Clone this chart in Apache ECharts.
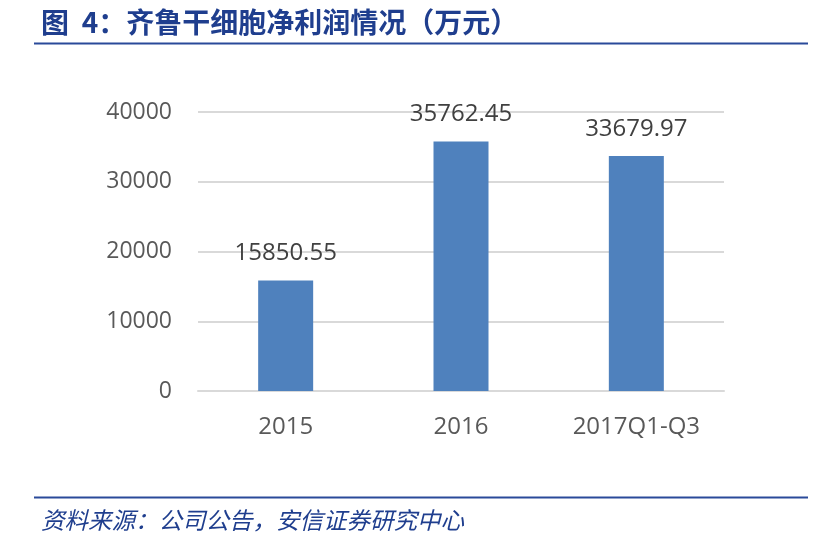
<!DOCTYPE html>
<html>
<head>
<meta charset="utf-8">
<script src="https://cdn.jsdelivr.net/npm/echarts@6/dist/echarts.min.js"></script>
<style>
html,body{margin:0;padding:0;background:#fff;}
#c{width:818px;height:533px;}
</style>
</head>
<body>
<div id="c"></div>
<script>
const categories = ['2015', '2016', '2017Q1-Q3'];
const netProfit = [15850.55, 35762.45, 33679.97];
const yTicks = [0, 10000, 20000, 30000, 40000];
const titleText = '图  4：齐鲁干细胞净利润情况（万元）';
const sourceText = '资料来源：公司公告，安信证券研究中心';

const chart = echarts.init(document.getElementById('c'));
chart.setOption({
  animation: false,
  backgroundColor: '#ffffff',
  title: [
    {
      text: titleText, left: 36, top: 3,
      textStyle: { fontFamily: 'Noto Sans CJK SC', fontSize: 28, fontWeight: 'bold', color: '#1F3E8E' }
    },
    {
      text: sourceText, left: 36, top: 503,
      textStyle: { fontFamily: 'Noto Sans CJK SC', fontSize: 23.5, fontWeight: 'normal', fontStyle: 'italic', color: '#1F3E8E' }
    }
  ],
  graphic: [
    { type: 'line', shape: { x1: 34, y1: 43.5, x2: 808, y2: 43.5 }, style: { stroke: '#2A4A9A', lineWidth: 2 } },
    { type: 'line', shape: { x1: 34, y1: 497.5, x2: 808, y2: 497.5 }, style: { stroke: '#2A4A9A', lineWidth: 2 } }
  ],
  grid: { left: 198, right: 94, top: 112, bottom: 142, containLabel: false },
  xAxis: {
    type: 'category',
    data: categories,
    axisTick: { show: false },
    axisLine: { show: true, lineStyle: { color: '#D9D9D9', width: 2 } },
    axisLabel: { margin: 24, fontFamily: 'Open Sans', fontSize: 24, color: '#595959' }
  },
  yAxis: {
    type: 'value',
    min: yTicks[0], max: yTicks[yTicks.length - 1], interval: yTicks[1] - yTicks[0],
    axisLine: { show: false },
    axisTick: { show: false },
    splitLine: { lineStyle: { color: '#D9D9D9', width: 2 } },
    axisLabel: { margin: 26, fontFamily: 'Open Sans', fontSize: 23, color: '#595959', formatter: v => String(v) }
  },
  series: [{
    type: 'bar',
    data: netProfit,
    barWidth: 55,
    itemStyle: { color: '#4F81BD' },
    label: {
      show: true, position: 'top', distance: 15,
      fontFamily: 'Open Sans', fontSize: 24, color: '#404040',
      formatter: p => p.value.toFixed(2)
    }
  }]
});
</script>
</body>
</html>
